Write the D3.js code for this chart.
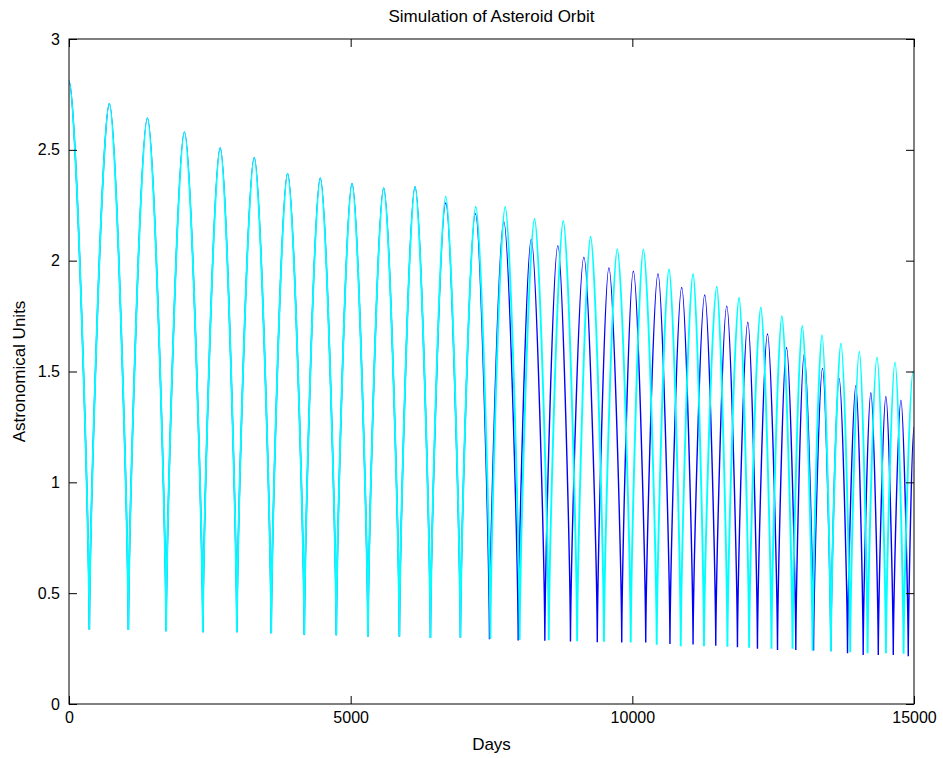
<!DOCTYPE html>
<html>
<head>
<meta charset="utf-8">
<script src="https://cdn.jsdelivr.net/npm/d3@7/dist/d3.min.js"></script>
<style>
  body { margin: 0; background: #fff; }
  text { font-family: "Liberation Sans", Arial, sans-serif; }
</style>
</head>
<body>
<div id="chart"></div>
<script>
// peaks (aphelion) and troughs (perihelion), days / AU
var cyanPeakDays = [0, 716, 1392, 2049, 2684, 3288, 3880, 4461, 5024, 5586, 6143, 6688, 7221, 7743, 8264, 8774,
  9259, 9733, 10196, 10651, 11078, 11499, 11895, 12281, 12654, 13016, 13366, 13703, 14029, 14343, 14663, 14985];
var cyanPeakAU = [2.81, 2.708, 2.643, 2.58, 2.508, 2.465, 2.392, 2.372, 2.347, 2.327, 2.332, 2.29, 2.243, 2.242, 2.188, 2.179,
  2.108, 2.052, 2.051, 1.961, 1.94, 1.883, 1.833, 1.789, 1.75, 1.706, 1.664, 1.627, 1.589, 1.563, 1.541, 1.50];
var cyanTroughDays = [361, 1054, 1724, 2376, 2980, 3590, 4177, 4745, 5307, 5865, 6416, 6948, 7480, 8000, 8517, 9020,
  9496, 9972, 10433, 10860, 11272, 11688, 12073, 12470, 12844, 13199, 13524, 13867, 14176, 14502, 14815];
var cyanTroughAU = [0.336, 0.334, 0.328, 0.324, 0.324, 0.319, 0.312, 0.31, 0.304, 0.304, 0.298, 0.30, 0.294, 0.29, 0.288, 0.283,
  0.281, 0.278, 0.267, 0.26, 0.26, 0.258, 0.254, 0.249, 0.249, 0.24, 0.238, 0.233, 0.229, 0.229, 0.227];

var bluePeakDays = [0, 716, 1392, 2049, 2684, 3288, 3880, 4461, 5024, 5586, 6143, 6688, 7215, 7718, 8205, 8678,
  9140, 9584, 10018, 10455, 10876, 11285, 11676, 12050, 12399, 12737, 13050, 13376, 13671, 13968, 14234, 14501, 14768];
var bluePeakAU = [2.81, 2.708, 2.643, 2.58, 2.508, 2.465, 2.392, 2.372, 2.347, 2.327, 2.332, 2.26, 2.212, 2.176, 2.096, 2.068,
  2.016, 1.967, 1.952, 1.94, 1.879, 1.845, 1.795, 1.722, 1.669, 1.608, 1.577, 1.514, 1.469, 1.436, 1.404, 1.387, 1.371];
var blueTroughDays = [361, 1054, 1724, 2376, 2980, 3590, 4177, 4745, 5307, 5865, 6416, 6948, 7464, 7974, 8447, 8902,
  9378, 9812, 10238, 10668, 11078, 11481, 11866, 12221, 12577, 12902, 13217, 13524, 13820, 14098, 14366, 14632, 14898];
var blueTroughAU = [0.336, 0.334, 0.328, 0.324, 0.324, 0.319, 0.312, 0.31, 0.304, 0.304, 0.298, 0.30, 0.292, 0.286, 0.285, 0.282,
  0.279, 0.278, 0.277, 0.271, 0.268, 0.263, 0.256, 0.249, 0.244, 0.244, 0.241, 0.238, 0.229, 0.221, 0.221, 0.221, 0.215];
var blueEnd = {day: 15000, au: 1.25};

var xTicks = [0, 5000, 10000, 15000];
var yTicks = [0, 0.5, 1, 1.5, 2, 2.5, 3];

// set the dimensions and margins of the graph
var margin = {top: 39, right: 29, bottom: 54, left: 69},
    width = 943 - margin.left - margin.right,
    height = 758 - margin.top - margin.bottom;

var svg = d3.select("#chart")
    .append("svg")
    .attr("width", 943)
    .attr("height", 758)
    .append("g")
    .attr("transform", "translate(" + margin.left + "," + margin.top + ")");

var x = d3.scaleLinear().domain([0, 15000]).range([0, width]);
var y = d3.scaleLinear().domain([0, 3]).range([height, 0]);

// merge peaks and troughs into one ordered list of extrema
function extrema(pd, pv, td, tv) {
    var pts = pd.map(function(d, i) { return {day: d, au: pv[i]}; })
        .concat(td.map(function(d, i) { return {day: d, au: tv[i]}; }));
    return pts.sort(function(a, b) { return a.day - b.day; });
}
var cyanPts = extrema(cyanPeakDays, cyanPeakAU, cyanTroughDays, cyanTroughAU);
var bluePts = extrema(bluePeakDays, bluePeakAU, blueTroughDays, blueTroughAU).concat([blueEnd]);

// curve between extrema: flat at the far point, nearly vertical at perihelion
function orbitCurve(context) {
    var x0, y0, n = 0;
    return {
        areaStart: function() {}, areaEnd: function() {},
        lineStart: function() { n = 0; },
        lineEnd: function() {},
        point: function(px, py) {
            if (n === 0) context.moveTo(px, py);
            else {
                var down = py > y0;
                var tx = down ? px : x0, ty = down ? py : y0,
                    hx = down ? x0 : px, hy = down ? y0 : py;
                var ct = [tx + 0.03 * (hx - tx), ty + 0.2 * (hy - ty)];
                var ch = [tx + 0.65 * (hx - tx), hy];
                if (down) context.bezierCurveTo(ch[0], ch[1], ct[0], ct[1], px, py);
                else context.bezierCurveTo(ct[0], ct[1], ch[0], ch[1], px, py);
            }
            x0 = px; y0 = py; n++;
        }
    };
}

var line = d3.line()
    .x(function(d) { return x(d.day); })
    .y(function(d) { return y(d.au); })
    .curve(orbitCurve);

// cyan drawn last and a bit wider so it hides the shared part
svg.append("path").datum(bluePts)
    .attr("d", line)
    .attr("fill", "none")
    .attr("stroke", "#0000ff")
    .attr("stroke-width", 1.4);

svg.append("path").datum(cyanPts)
    .attr("d", line)
    .attr("fill", "none")
    .attr("stroke", "#00ffff")
    .attr("stroke-width", 1.9);

// axes, matlab style: ticks inward on all four sides
function styleAxis(g) {
    g.select(".domain").remove();
    g.selectAll("line").attr("stroke", "#000");
    g.selectAll("text").style("font-size", "16px").attr("fill", "#000");
}
svg.append("g")
    .attr("transform", "translate(0," + height + ")")
    .call(d3.axisBottom(x).tickValues(xTicks).tickFormat(d3.format("d"))
        .tickSizeInner(-8).tickSizeOuter(0).tickPadding(8))
    .call(styleAxis);
svg.append("g")
    .call(d3.axisTop(x).tickValues(xTicks).tickSizeInner(-8).tickSizeOuter(0).tickFormat(""))
    .call(styleAxis);
svg.append("g")
    .call(d3.axisLeft(y).tickValues(yTicks).tickFormat(d3.format(""))
        .tickSizeInner(-8).tickSizeOuter(0).tickPadding(9))
    .call(styleAxis);
svg.append("g")
    .attr("transform", "translate(" + width + ",0)")
    .call(d3.axisRight(y).tickValues(yTicks).tickSizeInner(-8).tickSizeOuter(0).tickFormat(""))
    .call(styleAxis);

svg.append("rect")
    .attr("width", width)
    .attr("height", height)
    .attr("fill", "none")
    .attr("stroke", "#000")
    .attr("stroke-width", 1);

// title and axis labels
svg.append("text")
    .attr("x", width / 2)
    .attr("y", -17)
    .attr("text-anchor", "middle")
    .style("font-size", "17px")
    .text("Simulation of Asteroid Orbit");

svg.append("text")
    .attr("x", width / 2)
    .attr("y", height + 46)
    .attr("text-anchor", "middle")
    .style("font-size", "17px")
    .text("Days");

svg.append("text")
    .attr("transform", "translate(" + (-44) + "," + (height / 2) + ") rotate(-90)")
    .attr("text-anchor", "middle")
    .style("font-size", "17px")
    .text("Astronomical Units");
</script>
</body>
</html>
